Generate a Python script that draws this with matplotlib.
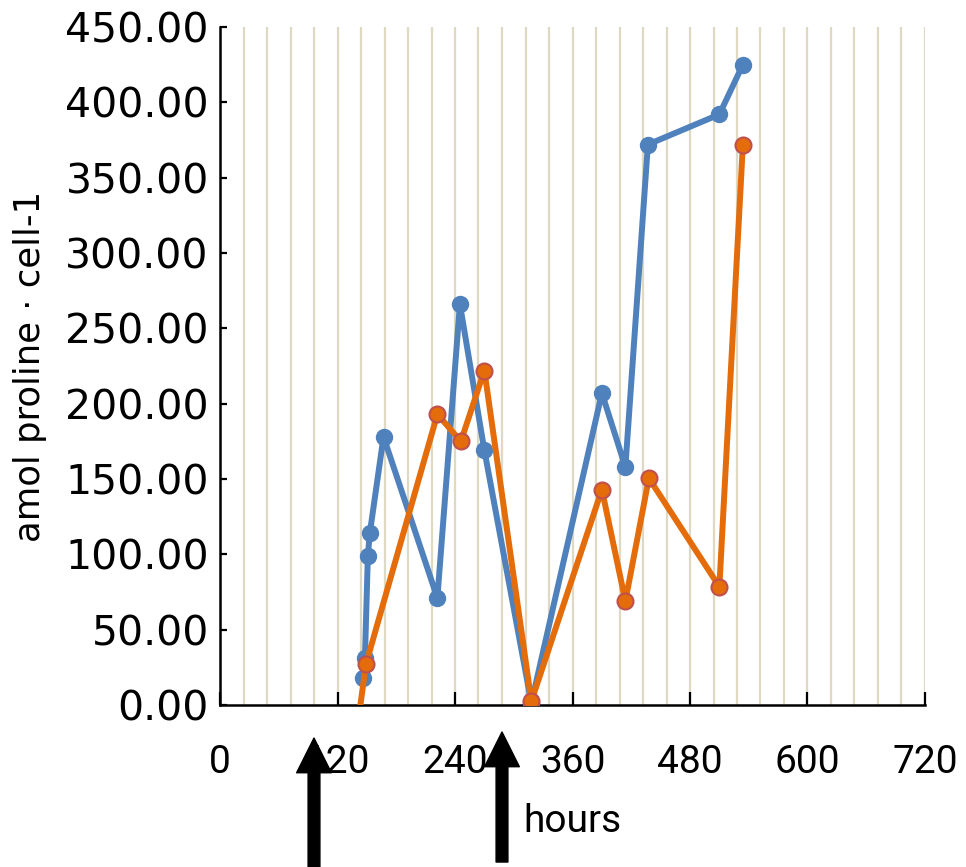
import matplotlib
matplotlib.use('Agg')
import matplotlib.pyplot as plt
import matplotlib.transforms as mtransforms
from matplotlib.patches import FancyArrowPatch

# ---- data ----
blue_hours = [146, 148, 151, 153, 167, 222, 245, 270, 318, 390, 414, 437, 510, 534]
blue_values = [18, 31, 99, 114, 178, 71, 266, 169, 1.3, 207, 158, 372, 392, 425]
orange_hours = [143, 149, 222, 246, 270, 318, 390, 414, 438, 510, 534]
orange_values = [-2, 27, 193, 175, 222, 2.5, 143, 69, 150.5, 78.5, 372]
x_ticks = [0, 120, 240, 360, 480, 600, 720]
y_ticks = [0, 50, 100, 150, 200, 250, 300, 350, 400, 450]
grid_hours = list(range(0, 721, 24))
arrow_hours = [96, 288]

BLUE = '#4F81BD'
ORANGE = '#E46C0A'
ORANGE_EDGE = '#C0504D'
GRID = '#DDD9C3'
NARROW = ['Roboto', 'DejaVu Sans']

fig = plt.figure(figsize=(9.66, 8.67), dpi=100)
ax = fig.add_axes([220/966, 1-705/867, 705/966, 678/867])

for g in grid_hours:
    ax.axvline(g, color=GRID, lw=1.6, zorder=0)

ax.plot(blue_hours, blue_values, color=BLUE, lw=4.3, marker='o', ms=11.5,
        mfc=BLUE, mec=BLUE, zorder=3, solid_joinstyle='round')
ax.plot(orange_hours, orange_values, color=ORANGE, lw=4.3, marker='o', ms=11.5,
        mfc=ORANGE, mec=ORANGE_EDGE, mew=1.5, markevery=list(range(1, len(orange_hours))),
        zorder=4, solid_joinstyle='round')

ax.set_xlim(0, 720)
ax.set_ylim(0, 450)
ax.set_xticks(x_ticks)
ax.set_yticks(y_ticks)
ax.set_yticklabels([f'{v:.2f}' for v in y_ticks])
ax.set_xticklabels([str(v) for v in x_ticks])

for s in ['top', 'right']:
    ax.spines[s].set_visible(False)
for s in ['left', 'bottom']:
    ax.spines[s].set_linewidth(1.8)
    ax.spines[s].set_color('black')

ax.tick_params(axis='x', direction='in', length=9.5, width=1.6, pad=28)
ax.tick_params(axis='y', direction='in', length=5, width=1.6, pad=8)
for lab in ax.get_xticklabels():
    lab.set_fontfamily(NARROW)
    lab.set_fontsize(28)
for lab in ax.get_yticklabels():
    lab.set_fontfamily(['DejaVu Sans'])
    lab.set_fontsize(29.5)

ax.set_ylabel('amol proline · cell-1', fontsize=25.5, family=['DejaVu Sans'])
ax.yaxis.set_label_coords(-0.245, 0.5)
ax.set_xlabel('hours', fontsize=28, family=NARROW)
ax.xaxis.set_label_coords(0.5, -0.145)

trans = mtransforms.blended_transform_factory(ax.transData, ax.transAxes)
arrow_spans = [(-0.245, -0.0487), (-0.2316, -0.0398)]
for h, (y0, y1) in zip(arrow_hours, arrow_spans):
    arr = FancyArrowPatch((h, y0), (h, y1), transform=trans,
                          arrowstyle='simple,head_width=25,head_length=25,tail_width=8.5',
                          mutation_scale=1, color='black', shrinkA=0, shrinkB=0,
                          clip_on=False, zorder=10)
    ax.add_artist(arr)

fig.savefig('out.png', dpi=100)
